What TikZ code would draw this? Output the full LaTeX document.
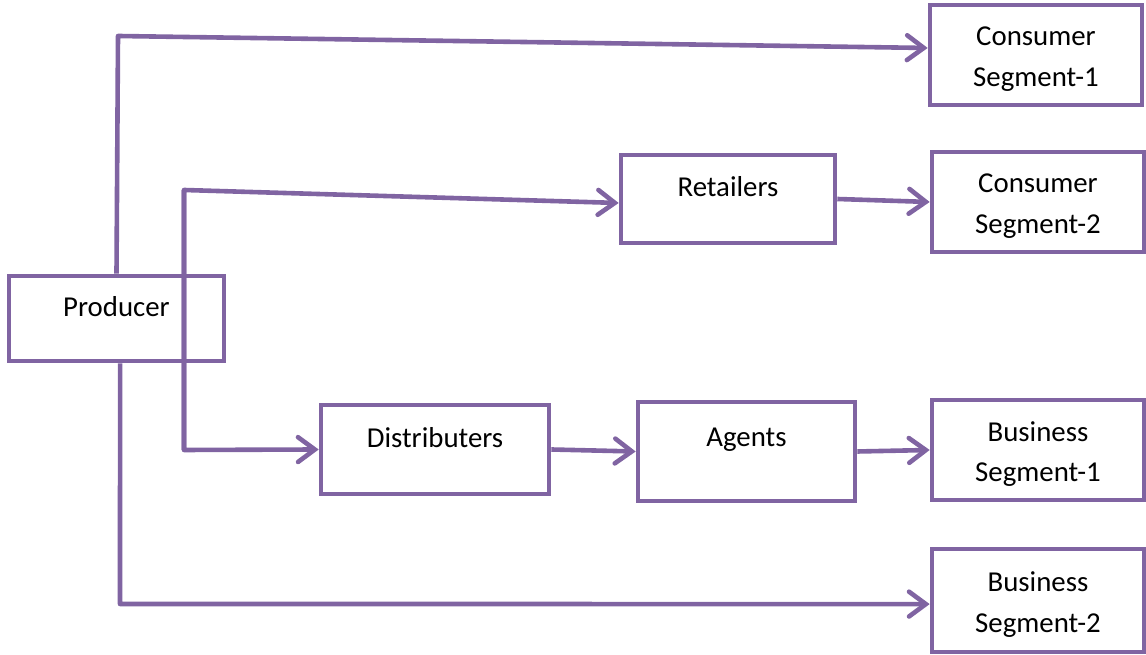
\documentclass[tikz,border=0pt]{standalone}
\usepackage{fontspec}
\setmainfont{Carlito}
\usepackage{xcolor}
\definecolor{lavender}{RGB}{128,100,162}
\usepackage{tikz}
\usetikzlibrary{arrows.meta}

\begin{document}
\begin{tikzpicture}[
  box/.style={draw=lavender, line width=0.115cm, inner sep=0pt},
  lbl/.style={font=\fontsize{20.5}{29}\selectfont, align=center},
  link/.style={draw=lavender, line width=0.115cm, line join=round,
    -{Straight Barb[length=0.42cm, width=0.62cm, line cap=round]}}
]
% Configuration
\useasboundingbox (0,0) rectangle (28.65,16.375);

% PRODUCER
\node[box, minimum width=5.375cm, minimum height=2.125cm,
  label={[lbl, yshift=0.3cm]center:Producer}] (P) at (2.9125, 8.4125) {};

% MIDDLEMEN
\node[box, minimum width=5.35cm, minimum height=2.2cm,
  label={[lbl, yshift=0.3cm]center:Retailers}] (R) at (18.2, 11.4) {};
\node[box, minimum width=5.7cm, minimum height=2.225cm,
  label={[lbl, yshift=0.3cm]center:Distributers}] (D) at (10.875, 5.1375) {};
\node[box, minimum width=5.425cm, minimum height=2.475cm,
  label={[lbl, yshift=0.3cm]center:Agents}] (A) at (18.6625, 5.0875) {};

% SEGMENTS
\node[box, minimum width=5.3cm, minimum height=2.5cm,
  label={[lbl, yshift=-0.1cm]center:Consumer\\Segment-1}] (C1) at (25.9, 15.0) {};
\node[box, minimum width=5.3cm, minimum height=2.5cm,
  label={[lbl, yshift=-0.1cm]center:Consumer\\Segment-2}] (C2) at (25.95, 11.325) {};
\node[box, minimum width=5.3cm, minimum height=2.5cm,
  label={[lbl, yshift=-0.1cm]center:Business\\Segment-1}] (B1) at (25.95, 5.125) {};
\node[box, minimum width=5.3cm, minimum height=2.575cm,
  label={[lbl, yshift=-0.1cm]center:Business\\Segment-2}] (B2) at (25.95, 1.3625) {};

% Corners
\coordinate (k1) at (2.95, 15.475);
\coordinate (k2) at (4.6, 11.625);
\coordinate (k3) at (4.6, 5.125);
\coordinate (k4) at (3.0, 1.275);

% Connections
\draw[link] (P.north) -- (k1) -- ([yshift=0.175cm]C1.west);
\draw[link] (k3) -- (k2) -- ([yshift=-0.1cm]R.west);
\draw[link] (k2) -- (k3) -- (D.west);
\draw[link] ([xshift=0.09cm]P.south) -- (k4) -- ([yshift=-0.09cm]B2.west);
\draw[link] (R.east) -- (C2.west);
\draw[link] (D.east) -- (A.west);
\draw[link] (A.east) -- (B1.west);
\end{tikzpicture}
\end{document}
